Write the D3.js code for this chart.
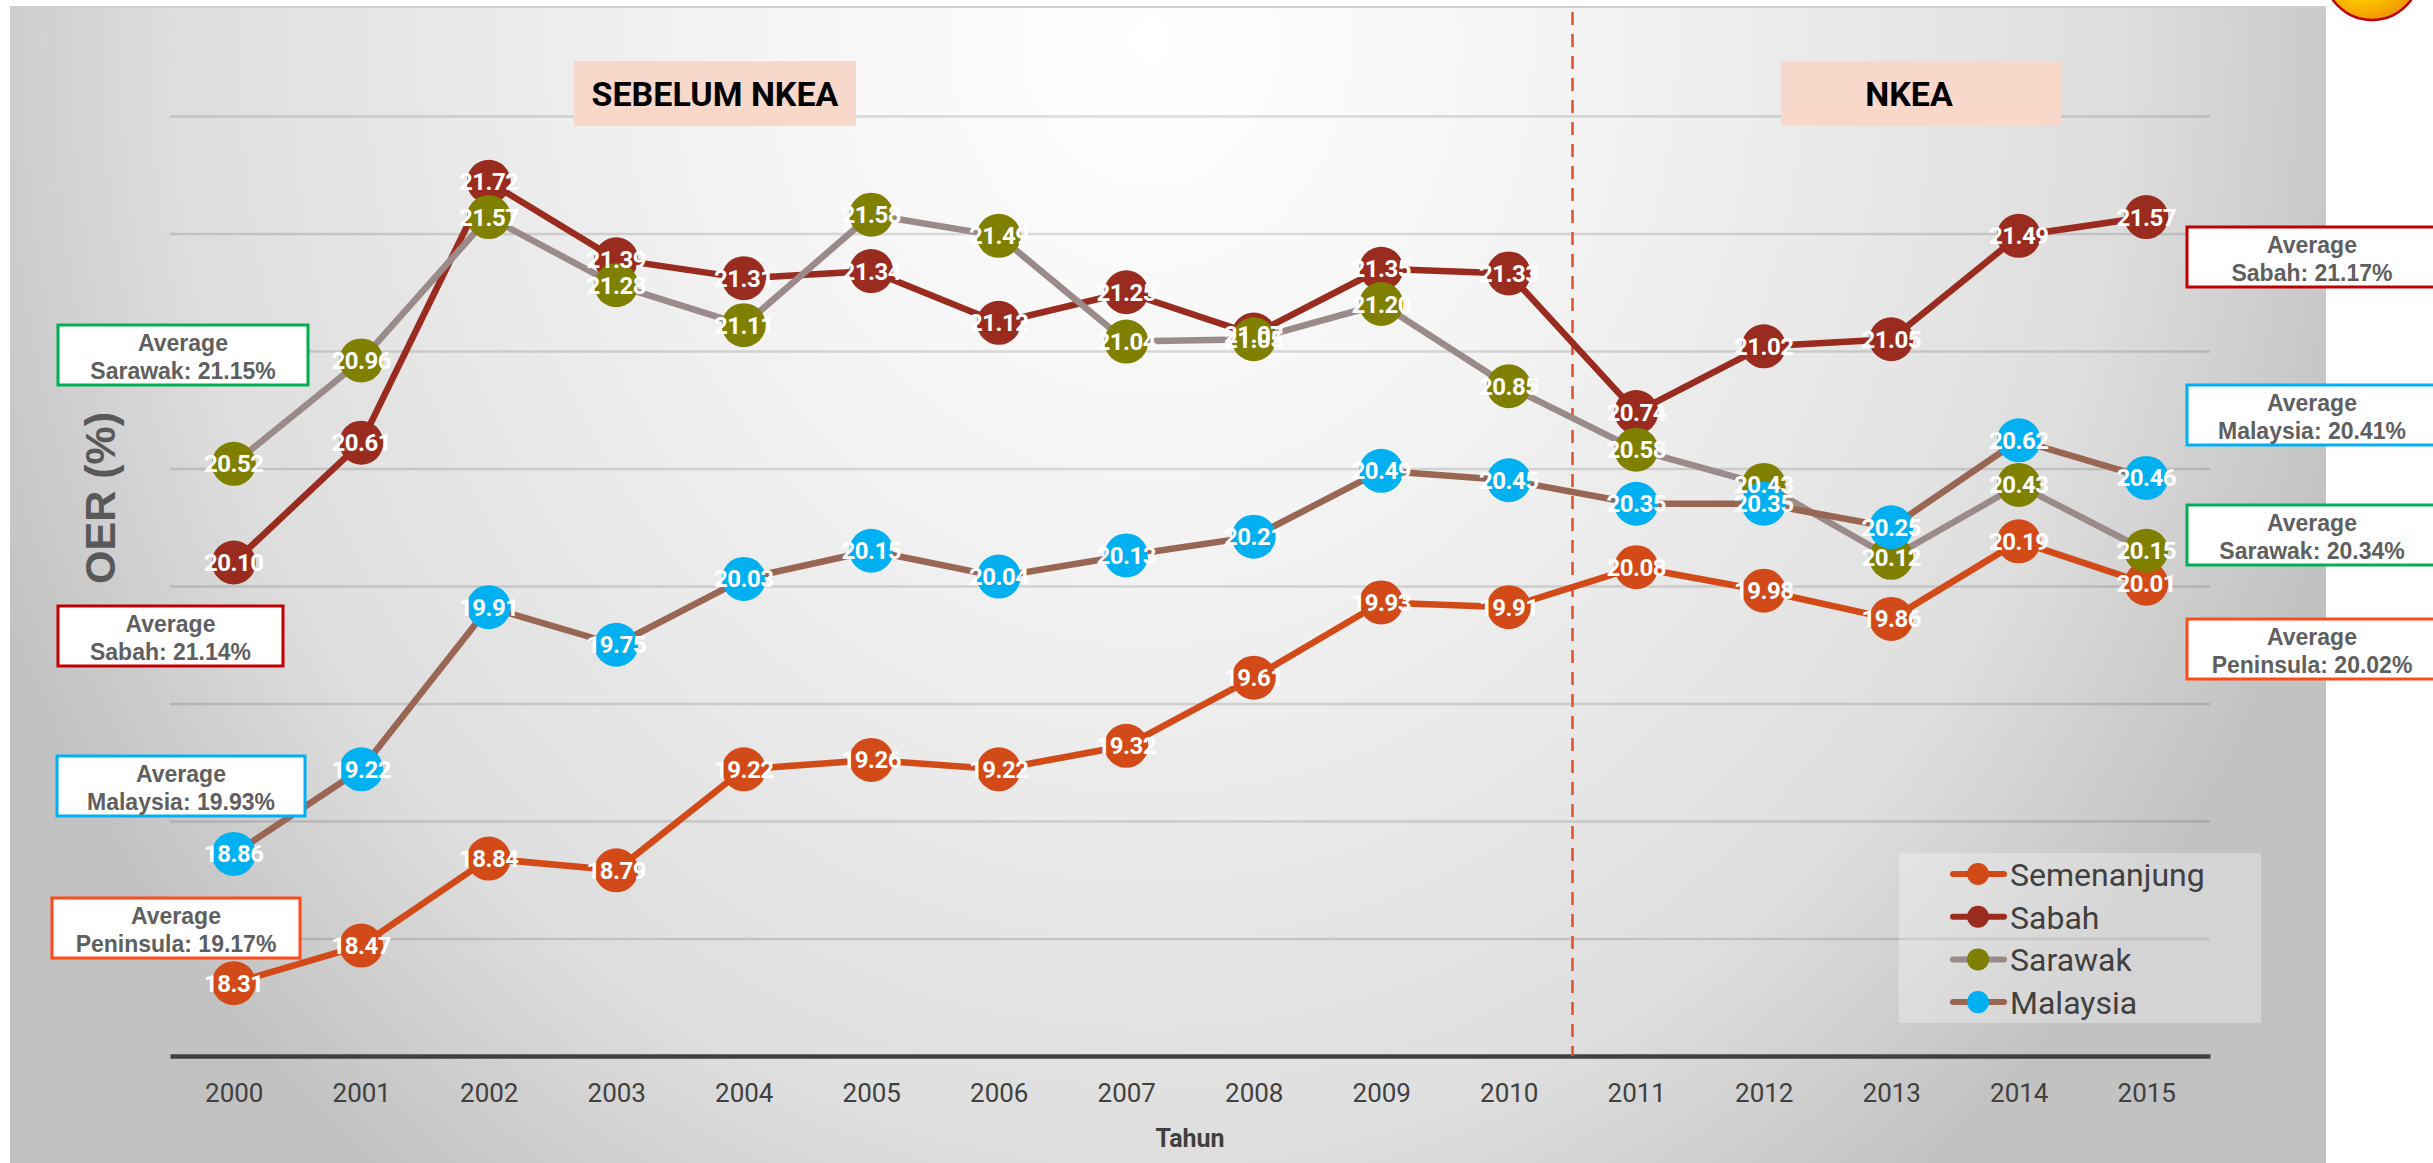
<!DOCTYPE html>
<html>
<head>
<meta charset="utf-8">
<script src="https://cdn.jsdelivr.net/npm/d3@7"></script>
<style>
  body { margin: 0; background: #ffffff; }
  svg { display: block; }
  .grid .domain { display: none; }
  .grid line { stroke: rgba(0,0,0,0.13); stroke-width: 2.5; }
  .x-axis text { font-family: Roboto, sans-serif; font-size: 26px; fill: #404040; }
</style>
</head>
<body>
<div id="chart"></div>
<script>
const years = ["2000","2001","2002","2003","2004","2005","2006","2007",
               "2008","2009","2010","2011","2012","2013","2014","2015"];

const semenanjung = [18.31,18.47,18.84,18.79,19.22,19.26,19.22,19.32,19.61,19.93,19.91,20.08,19.98,19.86,20.19,20.01];
const sabah       = [20.10,20.61,21.72,21.39,21.31,21.34,21.12,21.25,21.07,21.35,21.33,20.74,21.02,21.05,21.49,21.57];
const sarawak     = [20.52,20.96,21.57,21.28,21.11,21.58,21.49,21.04,21.05,21.20,20.85,20.58,20.43,20.12,20.43,20.15];
const malaysia    = [18.86,19.22,19.91,19.75,20.03,20.15,20.04,20.13,20.21,20.49,20.45,20.35,20.35,20.25,20.62,20.46];

const seriesNames = ["Semenanjung", "Sabah", "Sarawak", "Malaysia"];
const yTicks = [18, 18.5, 19, 19.5, 20, 20.5, 21, 21.5, 22];

// period averages shown in the side boxes
const avgRegions   = ["Sarawak", "Sabah", "Malaysia", "Peninsula"];
const avgBefore    = [21.15, 21.14, 19.93, 19.17];
const avgRegionsR  = ["Sabah", "Malaysia", "Sarawak", "Peninsula"];
const avgAfter     = [21.17, 20.41, 20.34, 20.02];

const periodLabels = ["SEBELUM NKEA", "NKEA"];

const W = 2433, H = 1163;

const styles = {
  Semenanjung: { line: "#d24a17", marker: "#d24a17" },
  Sabah:       { line: "#992b1f", marker: "#992b1f" },
  Sarawak:     { line: "#9a8a8a", marker: "#7f7f00" },
  Malaysia:    { line: "#9a6654", marker: "#00b0f0" }
};
const boxColors = { Sarawak: "#00b050", Sabah: "#c00000", Malaysia: "#00b0f0", Peninsula: "#ff4b1a" };

const svg = d3.select("#chart").append("svg")
  .attr("width", W).attr("height", H);

// background gradient
const defs = svg.append("defs");
const bg = defs.append("radialGradient")
  .attr("id", "bg").attr("gradientUnits", "userSpaceOnUse")
  .attr("cx", 1150).attr("cy", 40).attr("r", 1250)
  .attr("gradientTransform", "translate(1150,40) scale(1,1.15) translate(-1150,-40)");
bg.append("stop").attr("offset", 0).attr("stop-color", "#ffffff");
bg.append("stop").attr("offset", 0.35).attr("stop-color", "#f3f3f3");
bg.append("stop").attr("offset", 0.78).attr("stop-color", "#dedede");
bg.append("stop").attr("offset", 1).attr("stop-color", "#c2c2c2");

const sun = defs.append("radialGradient").attr("id", "sun")
  .attr("cx", "40%").attr("cy", "35%").attr("r", "65%");
sun.append("stop").attr("offset", 0).attr("stop-color", "#fff37a");
sun.append("stop").attr("offset", 0.6).attr("stop-color", "#ffd000");
sun.append("stop").attr("offset", 1).attr("stop-color", "#f29a00");

svg.append("rect")
  .attr("x", 10).attr("y", 7).attr("width", 2316).attr("height", H - 7)
  .attr("fill", "url(#bg)");
svg.append("line")
  .attr("x1", 10).attr("x2", 2326).attr("y1", 7).attr("y2", 7)
  .attr("stroke", "#cfcfcf").attr("stroke-width", 2);

// decorative icon peeking at top right
svg.append("circle")
  .attr("cx", 2372).attr("cy", -28).attr("r", 48)
  .attr("fill", "url(#sun)").attr("stroke", "#c00000").attr("stroke-width", 2.5);

const x = d3.scalePoint().domain(years).range([170, 2210]).padding(0.5);
const y = d3.scaleLinear().domain([18, 22]).range([1056, 116]);

// gridlines
svg.append("g")
  .attr("class", "grid")
  .attr("transform", "translate(170,0)")
  .call(d3.axisLeft(y).tickValues(yTicks.slice(1)).tickSize(-2040).tickFormat(""));

// x axis
const xAxis = svg.append("g")
  .attr("class", "x-axis")
  .attr("transform", `translate(0,${y(18)})`)
  .call(d3.axisBottom(x).tickSize(0).tickPadding(28));
xAxis.select(".domain").attr("stroke", "#404040").attr("stroke-width", 4.5);

svg.append("text")
  .attr("x", 1190).attr("y", 1147)
  .attr("text-anchor", "middle")
  .attr("font-family", "Roboto, sans-serif").attr("font-weight", 700)
  .attr("font-size", 25).attr("fill", "#404040")
  .text("Tahun");

svg.append("text")
  .attr("transform", "translate(115,498) rotate(-90)")
  .attr("text-anchor", "middle")
  .attr("font-family", "'Liberation Sans', Arial, sans-serif").attr("font-weight", 700)
  .attr("font-size", 43).attr("fill", "#595959")
  .text("OER (%)");

// divider between periods
const divX = (x("2010") + x("2011")) / 2;
svg.append("line")
  .attr("x1", divX).attr("x2", divX).attr("y1", 12).attr("y2", y(18))
  .attr("stroke", "#e0502a").attr("stroke-width", 2.5)
  .attr("stroke-dasharray", "13,9");

// period title boxes
const periodBoxes = [
  { x: 574, w: 282, tx: 715 },
  { x: 1781, w: 280, tx: 1909 }
];
periodLabels.forEach((label, i) => {
  const b = periodBoxes[i];
  svg.append("rect")
    .attr("x", b.x).attr("y", 61).attr("width", b.w).attr("height", 65)
    .attr("fill", "#f8d8cb");
  svg.append("text")
    .attr("x", b.tx).attr("y", 106)
    .attr("text-anchor", "middle")
    .attr("font-family", "Roboto, sans-serif").attr("font-weight", 700)
    .attr("font-size", 34).attr("fill", "#000")
    .text(label);
});

// series
const seriesData = [semenanjung, sabah, sarawak, malaysia].map((vals, i) => ({
  name: seriesNames[i],
  values: vals.map((v, j) => ({ year: years[j], value: v }))
}));

const line = d3.line().x(d => x(d.year)).y(d => y(d.value));

const seriesG = svg.selectAll(".series")
  .data(seriesData)
  .join("g")
  .attr("class", "series");

seriesG.append("path")
  .attr("d", d => line(d.values))
  .attr("fill", "none")
  .attr("stroke", d => styles[d.name].line)
  .attr("stroke-width", 6.5)
  .attr("stroke-linejoin", "round");

seriesG.selectAll("circle")
  .data(d => d.values.map(v => ({ ...v, name: d.name })))
  .join("circle")
  .attr("cx", d => x(d.year))
  .attr("cy", d => y(d.value))
  .attr("r", 22)
  .attr("fill", d => styles[d.name].marker);

// data labels on top of everything
const labelsG = svg.append("g");
seriesData.forEach(s => {
  labelsG.selectAll(null)
    .data(s.values)
    .join("text")
    .attr("x", d => x(d.year))
    .attr("y", d => y(d.value) + 8.5)
    .attr("text-anchor", "middle")
    .attr("font-family", "Roboto, sans-serif").attr("font-weight", 700)
    .attr("font-size", 24).attr("letter-spacing", -0.5).attr("fill", "#ffffff")
    .text(d => d.value.toFixed(2));
});

// legend
const legend = svg.append("g");
legend.append("rect")
  .attr("x", 1899).attr("y", 853).attr("width", 362).attr("height", 170)
  .attr("fill", "rgba(255,255,255,0.3)");
seriesNames.forEach((name, i) => {
  const cy = 874 + i * 42.7;
  legend.append("line")
    .attr("x1", 1953).attr("x2", 2004).attr("y1", cy).attr("y2", cy)
    .attr("stroke", styles[name].line).attr("stroke-width", 6)
    .attr("stroke-linecap", "round");
  legend.append("circle")
    .attr("cx", 1978).attr("cy", cy).attr("r", 11)
    .attr("fill", styles[name].marker);
  legend.append("text")
    .attr("x", 2010).attr("y", cy + 12)
    .attr("font-family", "Roboto, sans-serif")
    .attr("font-size", 32).attr("fill", "#404040")
    .text(name);
});

// average boxes
function avgBox(bx, by, bw, region, value) {
  const g = svg.append("g");
  g.append("rect")
    .attr("x", bx).attr("y", by).attr("width", bw).attr("height", 60)
    .attr("fill", "#ffffff")
    .attr("stroke", boxColors[region]).attr("stroke-width", 3);
  const t = g.append("text")
    .attr("text-anchor", "middle")
    .attr("font-family", "'Liberation Sans', Arial, sans-serif").attr("font-weight", 700)
    .attr("font-size", 23).attr("fill", "#5f5f5f");
  t.append("tspan").attr("x", bx + bw / 2).attr("y", by + 26).text("Average");
  t.append("tspan").attr("x", bx + bw / 2).attr("y", by + 54).text(`${region}: ${value.toFixed(2)}%`);
}

const leftBoxes = [
  { x: 58, y: 325, w: 250 },
  { x: 58, y: 606, w: 225 },
  { x: 57, y: 756, w: 248 },
  { x: 52, y: 898, w: 248 }
];
avgRegions.forEach((r, i) => avgBox(leftBoxes[i].x, leftBoxes[i].y, leftBoxes[i].w, r, avgBefore[i]));

const rightBoxY = [227, 385, 505, 619];
avgRegionsR.forEach((r, i) => avgBox(2187, rightBoxY[i], 250, r, avgAfter[i]));
</script>
</body>
</html>
